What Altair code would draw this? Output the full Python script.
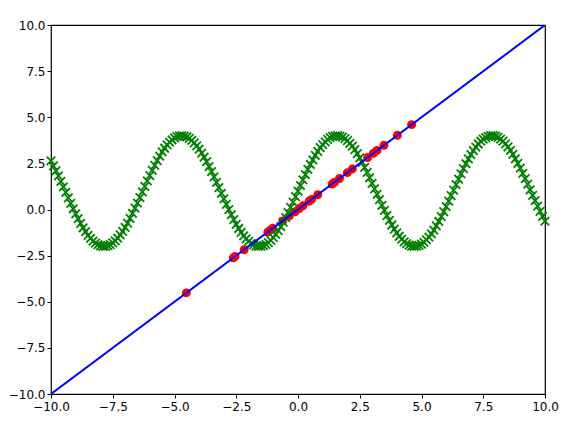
import altair as alt
import pandas as pd

# green 'x' markers (sine-shaped cloud)
green_x = [round(-10.0 + 0.1 * i, 1) for i in range(201)]
green_y = [
    2.63, 2.37, 2.10, 1.82, 1.52, 1.23, 0.93, 0.63, 0.33, 0.04,
    -0.24, -0.50, -0.75, -0.99, -1.20, -1.40, -1.56, -1.71, -1.82, -1.91,
    -1.97, -2.00, -2.00, -1.96, -1.90, -1.81, -1.70, -1.55, -1.38, -1.19,
    -0.97, -0.74, -0.48, -0.21, 0.07, 0.35, 0.65, 0.95, 1.25, 1.55,
    1.84, 2.12, 2.39, 2.65, 2.89, 3.12, 3.32, 3.50, 3.65, 3.78,
    3.88, 3.95, 3.99, 4.00, 3.98, 3.93, 3.85, 3.75, 3.61, 3.45,
    3.27, 3.06, 2.84, 2.59, 2.33, 2.05, 1.77, 1.47, 1.18, 0.88,
    0.58, 0.28, -0.01, -0.28, -0.55, -0.80, -1.03, -1.24, -1.43, -1.59,
    -1.73, -1.84, -1.92, -1.98, -2.00, -1.99, -1.96, -1.89, -1.80, -1.67,
    -1.52, -1.35, -1.15, -0.93, -0.69, -0.44, -0.17, 0.11, 0.40, 0.70,
    1.00,
    1.30, 1.60, 1.89, 2.17, 2.44, 2.69, 2.93, 3.15, 3.35, 3.52,
    3.67, 3.80, 3.89, 3.96, 3.99, 4.00, 3.98, 3.92, 3.84, 3.73,
    3.59, 3.43, 3.24, 3.03, 2.80, 2.55, 2.28, 2.01, 1.72, 1.42,
    1.12, 0.82, 0.53, 0.23, -0.05, -0.33, -0.59, -0.84, -1.06, -1.27,
    -1.45, -1.61, -1.75, -1.85, -1.93, -1.98, -2.00, -1.99, -1.95, -1.88,
    -1.78, -1.65, -1.50, -1.32, -1.12, -0.89, -0.65, -0.39, -0.12, 0.16,
    0.45, 0.75, 1.05, 1.35, 1.65, 1.93, 2.21, 2.48, 2.74, 2.97,
    3.19, 3.38, 3.55, 3.70, 3.81, 3.90, 3.96, 4.00, 4.00, 3.97,
    3.91, 3.82, 3.71, 3.56, 3.40, 3.20, 2.99, 2.75, 2.50, 2.24,
    1.96, 1.67, 1.37, 1.07, 0.77, 0.48, 0.18, -0.10, -0.37, -0.63,
]

# red points (on the diagonal)
red_x = [-4.52, -2.62, -2.55, -2.18, -1.22, -1.12, -1.02, -0.62, -0.35, -0.12,
         0.05, 0.2, 0.45, 0.55, 0.8, 1.38, 1.48, 1.68, 2.0, 2.2,
         2.82, 3.05, 3.2, 3.48, 4.02, 4.6]
red_y = [-4.52, -2.62, -2.55, -2.18, -1.22, -1.12, -1.02, -0.62, -0.35, -0.12,
         0.05, 0.2, 0.45, 0.55, 0.8, 1.38, 1.48, 1.68, 2.0, 2.2,
         2.82, 3.05, 3.2, 3.48, 4.02, 4.6]

# blue line
line_x = [-10, 10]
line_y = [-10, 10]

ticks = [-10, -7.5, -5, -2.5, 0, 2.5, 5, 7.5, 10]

xs = alt.Scale(domain=[-10, 10], nice=False, zero=False)
ys = alt.Scale(domain=[-10, 10], nice=False, zero=False)

axis_common = dict(
    values=ticks, format=".1f", grid=False, domain=False,
    tickColor="black", tickSize=4, tickWidth=1,
    labelColor="black", labelFont="DejaVu Sans", labelFontSize=12,
    title=None, labelFlush=False,
)
xax = alt.Axis(**axis_common, labelPadding=3)
yax = alt.Axis(**axis_common, labelPadding=2)

green_df = pd.DataFrame({"x": green_x, "y": green_y})
red_df = pd.DataFrame({"x": red_x, "y": red_y})
line_df = pd.DataFrame({"x": line_x, "y": line_y})

red = alt.Chart(red_df).mark_point(
    shape="circle", filled=True, color="#ff0000", size=80, opacity=1
).encode(x=alt.X("x:Q", scale=xs, axis=xax), y=alt.Y("y:Q", scale=ys, axis=yax))

green = alt.Chart(green_df).mark_point(
    shape="M-1,-1L1,1M-1,1L1,-1", filled=False, color="#008000",
    size=72, strokeWidth=1.8, opacity=1
).encode(x=alt.X("x:Q", scale=xs), y=alt.Y("y:Q", scale=ys))

blue = alt.Chart(line_df).mark_line(color="#0000ff", strokeWidth=2, clip=True).encode(
    x=alt.X("x:Q", scale=xs), y=alt.Y("y:Q", scale=ys)
)

chart = alt.layer(red, green, blue).properties(
    width=494, height=369,
    background="white",
    autosize=alt.AutoSizeParams(type="none"),
    padding={"left": 43, "top": 17, "right": 23, "bottom": 27},
).configure_view(stroke="#000000", strokeWidth=1.2)

chart.save("out.html", embed_options={"renderer": "svg", "actions": False})
